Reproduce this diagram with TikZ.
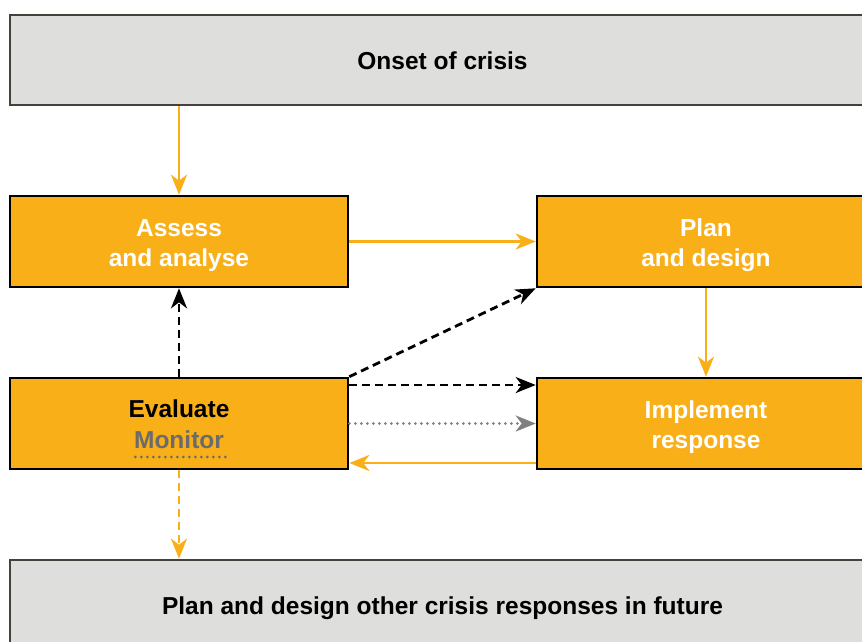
\documentclass[tikz,border=0pt]{standalone}
\usepackage{fontspec}
\setmainfont{Liberation Sans}
\usetikzlibrary{arrows.meta,calc}
\definecolor{orng}{HTML}{F8AF18}
\definecolor{greyfill}{HTML}{DEDEDC}
\definecolor{greyline}{HTML}{45423C}
\definecolor{montxt}{HTML}{6B6B6B}
\definecolor{dotgrey}{HTML}{808080}
\tikzset{
  obox/.style={draw=black, line width=2.6pt, fill=orng, minimum width=338pt, minimum height=91pt, inner sep=0pt},
  gbox/.style={draw=greyline, line width=2.6pt, fill=greyfill, minimum width=865pt, minimum height=90pt, inner sep=0pt},
  lbl/.style={inner sep=0pt, align=center, font=\bfseries\fontsize{24.5}{30}\selectfont},
  wlbl/.style={lbl, text=white},
  tip/.style={-{Stealth[length=20pt,width=16pt,inset=6pt]}},
  oarrow/.style={tip, draw=orng, line width=2.6pt},
  odash/.style={tip, draw=orng, line width=2.8pt, dash pattern=on 8pt off 5pt},
  bdash/.style={tip, draw=black, line width=2.8pt, dash pattern=on 8pt off 5pt},
  gdot/.style={-{Stealth[length=20pt,width=16pt,inset=6pt,line cap=butt]}, draw=dotgrey, line width=3pt, dash pattern=on 0pt off 6pt, line cap=round},
}
\begin{document}
\begin{tikzpicture}[x=1pt,y=-1pt]
\useasboundingbox (0,0) rectangle (862,641);
\clip (0,0) rectangle (862,641);
\node[gbox] (onset) at (442.5,60) {};
\node[obox] (assess) at (179,241.5) {};
\node[obox] (plan) at (706,241.5) {};
\node[obox] (eval) at (179,423.5) {};
\node[obox] (impl) at (706,423.5) {};
\node[gbox] (future) at (442.5,605) {};
\node[lbl, text=black] (onsettxt) at ([yshift=-1pt]onset.center) {Onset of crisis};
\node[wlbl] (assesstxt) at ([yshift=-4pt]assess.center) {Assess\\and analyse};
\node[wlbl] (plantxt) at ([yshift=-4pt]plan.center) {Plan\\and design};
\node[wlbl] (impltxt) at ([yshift=-4pt]impl.center) {Implement\\response};
\node[lbl, text=black] (futuretxt) at ([yshift=-3pt]future.center) {Plan and design other crisis responses in future};
\node[lbl, text=black, anchor=base] (evtxt) at (179,417) {Evaluate};
\node[lbl, text=montxt, anchor=base] (montxt) at (179,448) {Monitor};
\draw[draw=montxt, line width=3pt, dash pattern=on 0pt off 6pt, line cap=round]
  ([yshift=-9pt,xshift=1.5pt]montxt.base west) -- ([yshift=-9pt,xshift=1.5pt]montxt.base east);
\coordinate (ydash) at (0,385);
\coordinate (yret) at (0,463);
% connectors
\draw[oarrow] (assess.north |- onset.south) -- (assess.north);
\draw[oarrow] (assess.east) -- (plan.west);
\draw[oarrow] (plan.south) -- (impl.north);
\draw[oarrow] (impl.west |- yret) -- (eval.east |- yret);
\draw[bdash] (eval.north) -- (assess.south);
\draw[bdash] (eval.north east) -- (plan.south west);
\draw[bdash] (eval.east |- ydash) -- (impl.west |- ydash);
\draw[gdot] (eval.east) -- (impl.west);
\draw[odash] (eval.south) -- (eval.south |- future.north);
\end{tikzpicture}
\end{document}
